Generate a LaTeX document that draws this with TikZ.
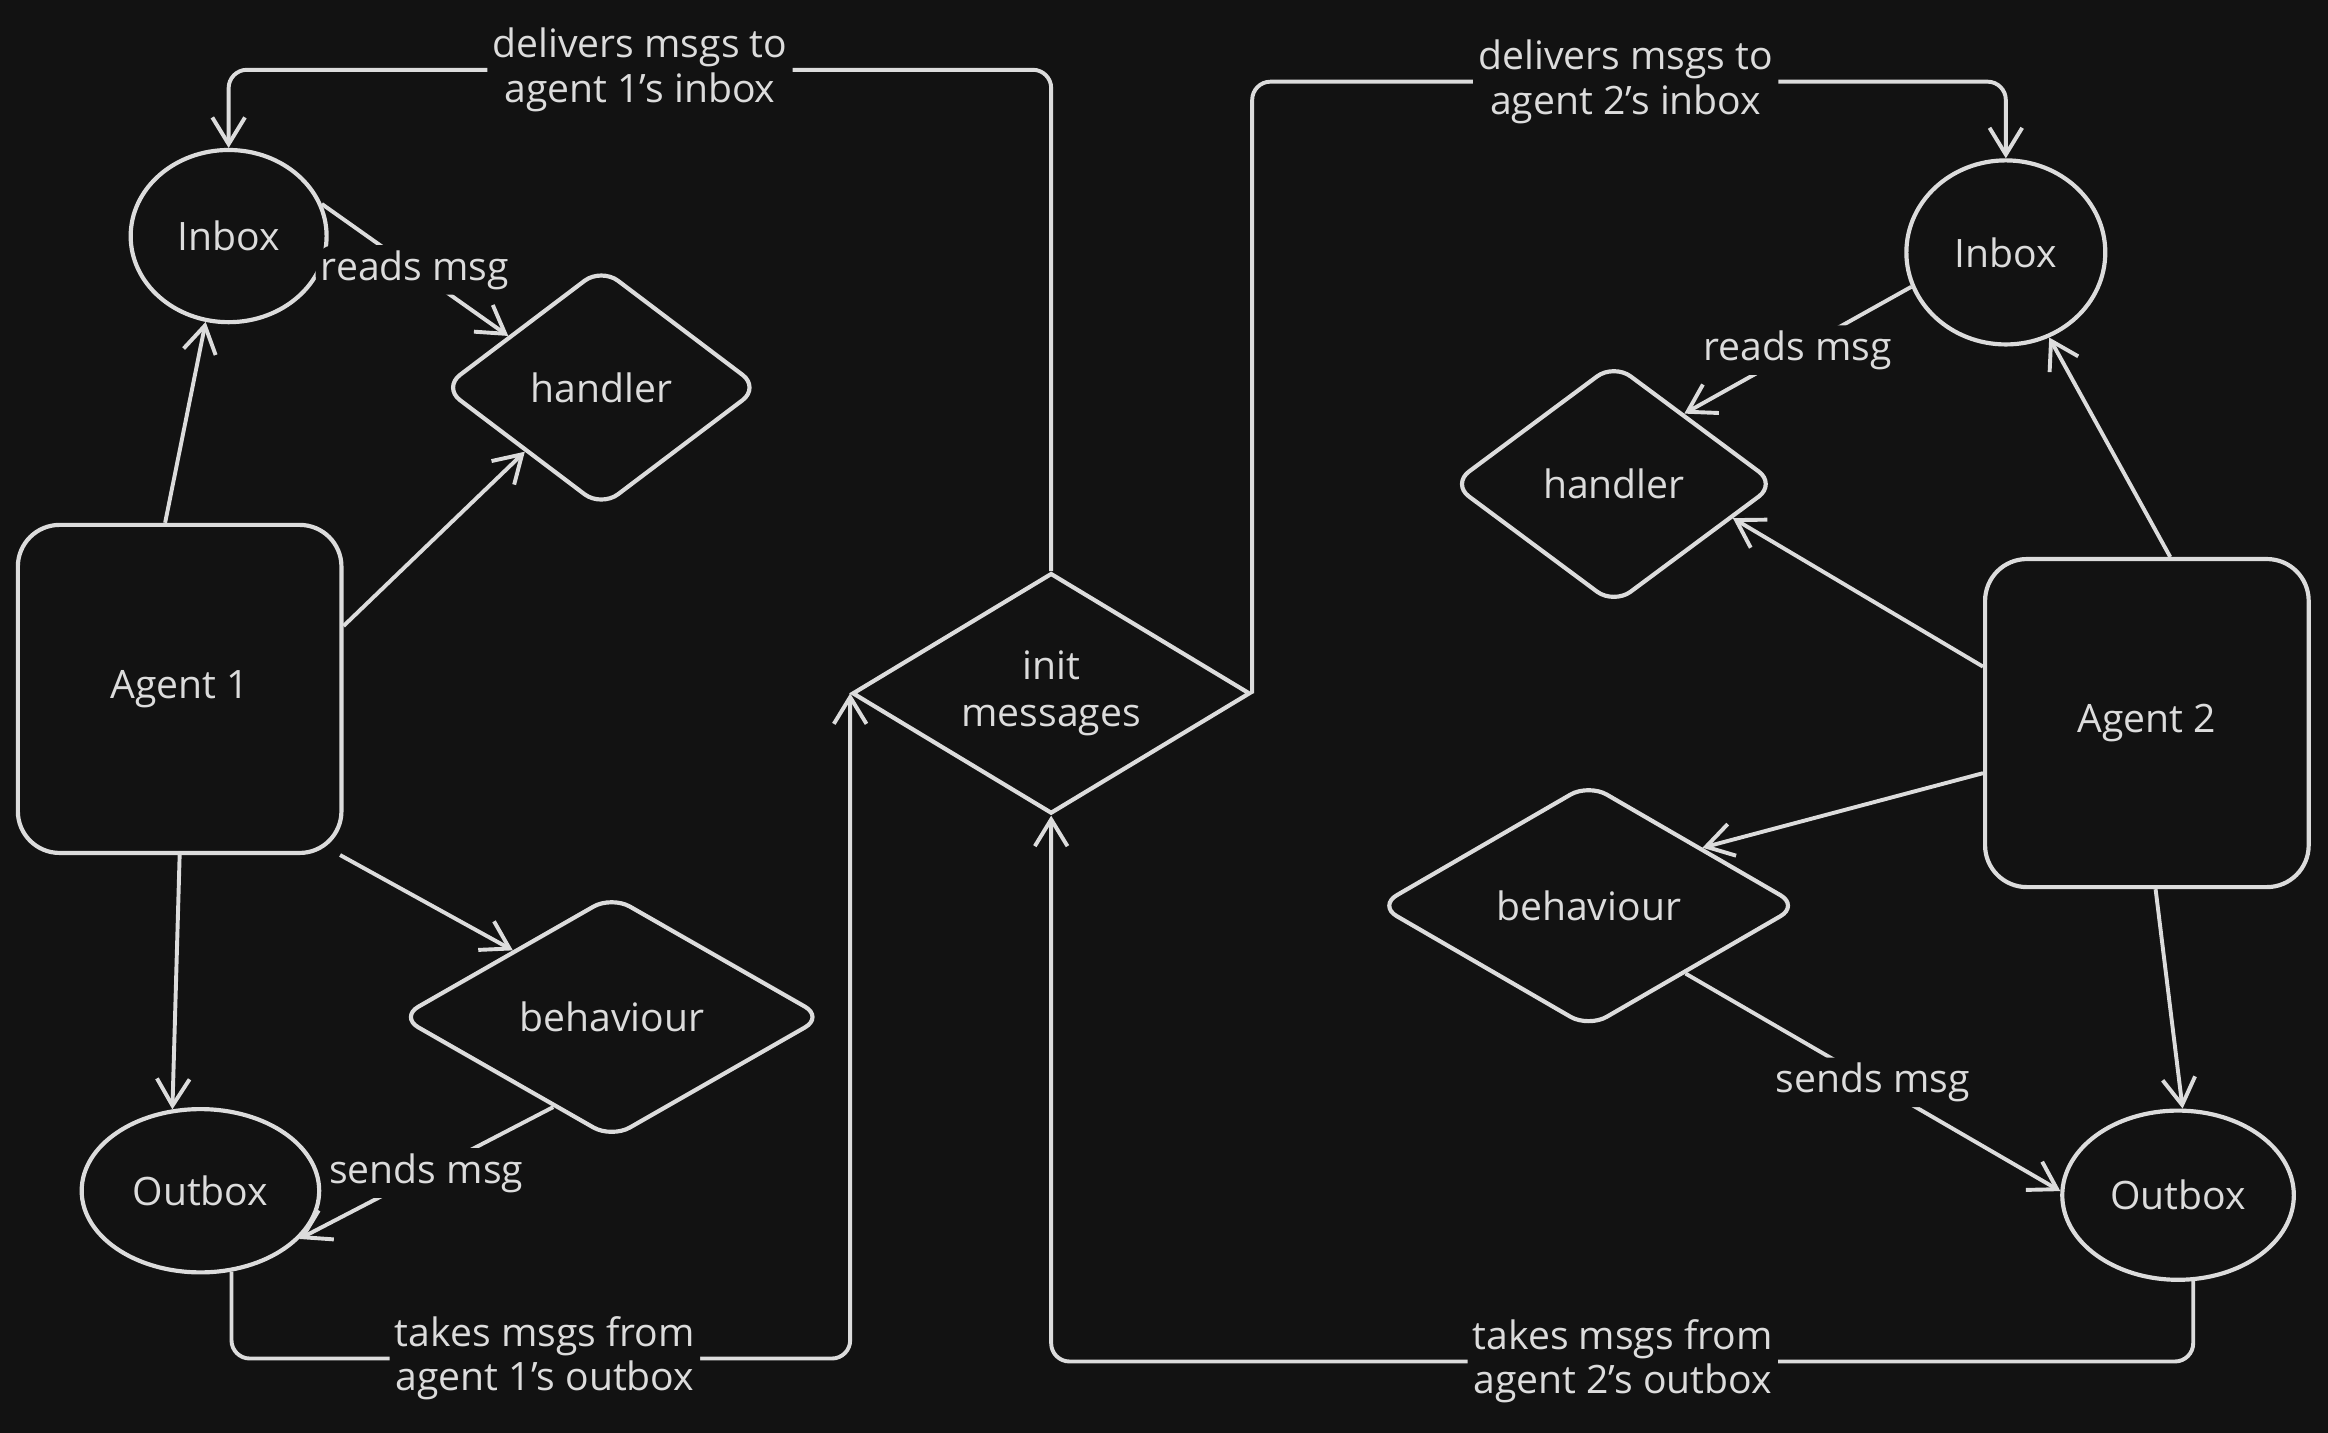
\documentclass[tikz,border=0pt]{standalone}
\usepackage{fontspec}
\setmainfont{Open Sans}
\usepackage{tikz}
\usetikzlibrary{calc,positioning,arrows.meta,shapes.geometric}
\definecolor{bgd}{HTML}{121212}
\definecolor{ink}{HTML}{DCDCDC}
\tikzset{
  agent/.style={rectangle, draw=ink, line width=1.6pt, rounded corners=16pt, minimum width=4.36cm, minimum height=4.42cm, text=ink},
  mbox/.style={ellipse, draw=ink, line width=1.6pt, inner sep=0pt, text=ink},
  handl/.style={diamond, draw=ink, line width=1.6pt, rounded corners=8pt, inner sep=0pt, shape aspect=1.6, text=ink},
  initd/.style={diamond, draw=ink, line width=1.6pt, inner sep=0pt, shape aspect=1.65, align=center, text=ink},
  line/.style={draw=ink, line width=1.5pt, -{Straight Barb[length=3.6mm,width=4.4mm,line width=1.5pt]}, rounded corners=7pt},
  lbl/.style={fill=bgd, text=ink, inner sep=2pt, align=center, font=\fontsize{15}{17}\selectfont},
}

\begin{document}
\begin{tikzpicture}[x=0.02cm, y=-0.02cm, font=\fontsize{15}{18}\selectfont]
    \fill[bgd] (0,0) rectangle (1568,965);
    \useasboundingbox (0,0) rectangle (1568,965);

    \node[agent] (agentA) at (121,464) {Agent 1};
    \node[mbox, minimum width=2.64cm, minimum height=2.32cm] (inboxA) at (154,159) {Inbox};
    \node[handl, minimum width=4.28cm, minimum height=3.24cm] (handlerA) at (405,261) {handler};
    \node[handl, minimum width=5.72cm, minimum height=3.28cm] (behavA) at (412,685) {behaviour};
    \node[mbox, minimum width=3.2cm, minimum height=2.2cm] (outboxA) at (135,802) {Outbox};

    \node[initd, minimum width=5.36cm, minimum height=3.24cm] (init) at (708,467) {init\\messages};

    \node[agent] (agentB) at (1446,487) {Agent 2};
    \node[mbox, minimum width=2.68cm, minimum height=2.48cm] (inboxB) at (1351,170) {Inbox};
    \node[handl, minimum width=4.38cm, minimum height=3.26cm] (handlerB) at (1087,326) {handler};
    \node[handl, minimum width=5.68cm, minimum height=3.3cm] (behavB) at (1070,610) {behaviour};
    \node[mbox, minimum width=3.12cm, minimum height=2.28cm] (outboxB) at (1467,805) {Outbox};

    \coordinate (topA) at (431,47);
    \coordinate (topB) at (1095,55);
    \coordinate (botA) at (367,915);
    \coordinate (botB) at (1093,917);

    \begin{scope}[every path/.style=line]
      \path (agentA.95) -- (inboxA.255);
      \path (agentA.21) -- (handlerA.220);
      \path (agentA.314) -- (behavA.146);
      \path (agentA.south) -- (outboxA.109);
      \path (inboxA.19) -- node[lbl] {reads msg} (handlerA.151);
      \path (behavA.237) -- node[lbl] {sends msg} (outboxA.334);

      \path (agentB.82) -- (inboxB.297);
      \path (agentB.161) -- (handlerB.344);
      \path (agentB.197) -- (behavB.27);
      \path (agentB.273) -- (outboxB.87);
      \path (inboxB.200) -- node[lbl] {reads msg} (handlerB.45);
      \path (behavB.325) -- node[lbl] {sends msg} (outboxB.178);

      \path (outboxA.291) |- (botA) node[lbl] {takes msgs from\\agent 1's outbox} -| (init.west);
      \path (init.north) |- (topA) node[lbl] {delivers msgs to\\agent 1's inbox} -| (inboxA.north);
      \path (init.east) |- (topB) node[lbl] {delivers msgs to\\agent 2's inbox} -| (inboxB.north);
      \path (outboxB.280) |- (botB) node[lbl] {takes msgs from\\agent 2's outbox} -| (init.south);
    \end{scope}
\end{tikzpicture}
\end{document}
